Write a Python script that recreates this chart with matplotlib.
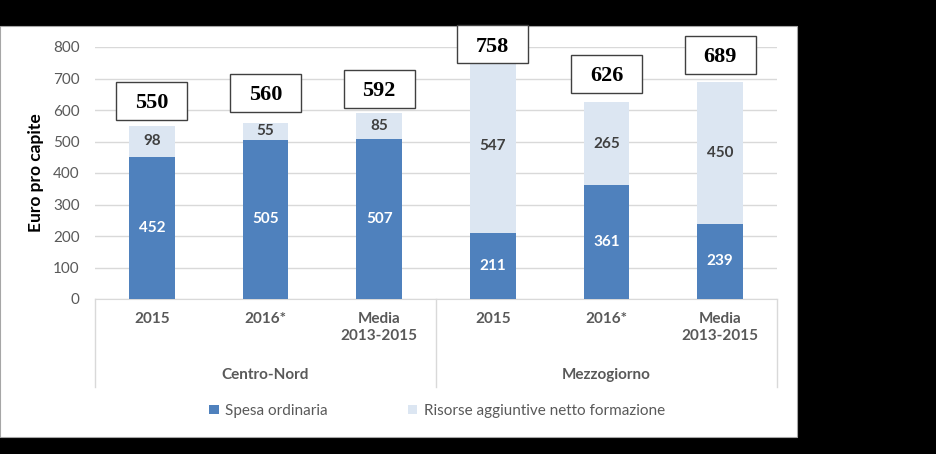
import matplotlib.pyplot as plt
import matplotlib.transforms as mtransforms
import numpy as np
from matplotlib.lines import Line2D
from matplotlib.patches import Patch, Rectangle

categories = ["2015", "2016*", "Media\n2013-2015", "2015", "2016*", "Media\n2013-2015"]
groups = ["Centro-Nord", "Mezzogiorno"]
spesa_ordinaria = [452, 505, 507, 211, 361, 239]
risorse_aggiuntive = [98, 55, 85, 547, 265, 450]
totals = [550, 560, 592, 758, 626, 689]
series_names = ["Spesa ordinaria", "Risorse aggiuntive netto formazione"]

DARK = "#4F81BD"
LIGHT = "#DCE6F2"
GRID = "#D9D9D9"
TEXT = "#595959"

plt.rcParams["font.family"] = ["Lato", "DejaVu Sans"]

fig = plt.figure(figsize=(9.36, 4.54), dpi=100, facecolor="black")
fig.patches.append(Rectangle((0, 17 / 454), 797 / 936, 411 / 454, transform=fig.transFigure,
                             facecolor="white", edgecolor="#A6A6A6", lw=0.8, zorder=-10))

ax = fig.add_axes([95 / 936, 155 / 454, 682 / 936, 252 / 454])
ax.set_facecolor("white")
x = np.arange(len(categories))
width = 0.4

ax.bar(x, spesa_ordinaria, width, color=DARK, zorder=3)
ax.bar(x, risorse_aggiuntive, width, bottom=spesa_ordinaria, color=LIGHT, zorder=3)

ax.set_xlim(-0.5, len(categories) - 0.5)
ax.set_ylim(0, 800)
ax.set_yticks(np.arange(0, 801, 100))
ax.yaxis.grid(True, color=GRID, lw=1)
ax.set_axisbelow(True)
ax.tick_params(axis="y", length=0, labelsize=11, labelcolor=TEXT, pad=11)
ax.set_xticks([])
for side in ["top", "right", "left"]:
    ax.spines[side].set_visible(False)
ax.spines["bottom"].set_color(GRID)
ax.set_ylabel("Euro pro capite", fontsize=12.5, fontweight="bold")
ax.yaxis.set_label_coords(-51 / 682, 0.5)

# segment labels
for xi, lo, hi in zip(x, spesa_ordinaria, risorse_aggiuntive):
    ax.text(xi, lo / 2, str(lo), ha="center", va="center", color="white",
            fontsize=11, fontweight="bold", zorder=4)
    ax.text(xi, lo + hi / 2, str(hi), ha="center", va="center", color="#404040",
            fontsize=11, fontweight="bold", zorder=4)

# total boxes, hand placed above each bar in the original (offsets in pixels)
box_offsets = [25, 30, 24, 16, 28, 27]
for xi, tot, off in zip(x, totals, box_offsets):
    tr = mtransforms.Affine2D().translate(0, off) + mtransforms.ScaledTranslation(xi, tot, ax.transData)
    ax.add_patch(Rectangle((-35.5, -19), 71, 38, transform=tr, facecolor="white",
                           edgecolor="#404040", lw=1.0, clip_on=False, zorder=5))
    ax.text(0, 0, str(tot), transform=tr, ha="center", va="center_baseline", fontsize=16,
            fontweight="bold", family="Liberation Serif", clip_on=False, zorder=6)

# category and group labels
trans = ax.get_xaxis_transform()
for xi, lab in zip(x, categories):
    ax.text(xi, -0.05, lab, transform=trans, ha="center", va="top",
            fontsize=11, fontweight="bold", color=TEXT, linespacing=1.3)
for gi, name in enumerate(groups):
    ax.text(gi * 3 + 1, -0.3, name, transform=trans, ha="center", va="center",
            fontsize=11, fontweight="bold", color=TEXT)
for xs in [-0.5, 2.5, 5.5]:
    ax.add_line(Line2D([xs, xs], [0, -0.35], transform=trans, color=GRID, lw=1, clip_on=False))

handles = [Patch(facecolor=DARK), Patch(facecolor=LIGHT)]
fig.legend(handles, series_names, ncol=2, loc="center", bbox_to_anchor=(437 / 936, 1 - 411 / 454),
           frameon=False, fontsize=11, handlelength=0.6, handleheight=0.6,
           handletextpad=0.4, columnspacing=5.3, labelcolor=TEXT)

fig.savefig("out.png", dpi=100, facecolor="black")
